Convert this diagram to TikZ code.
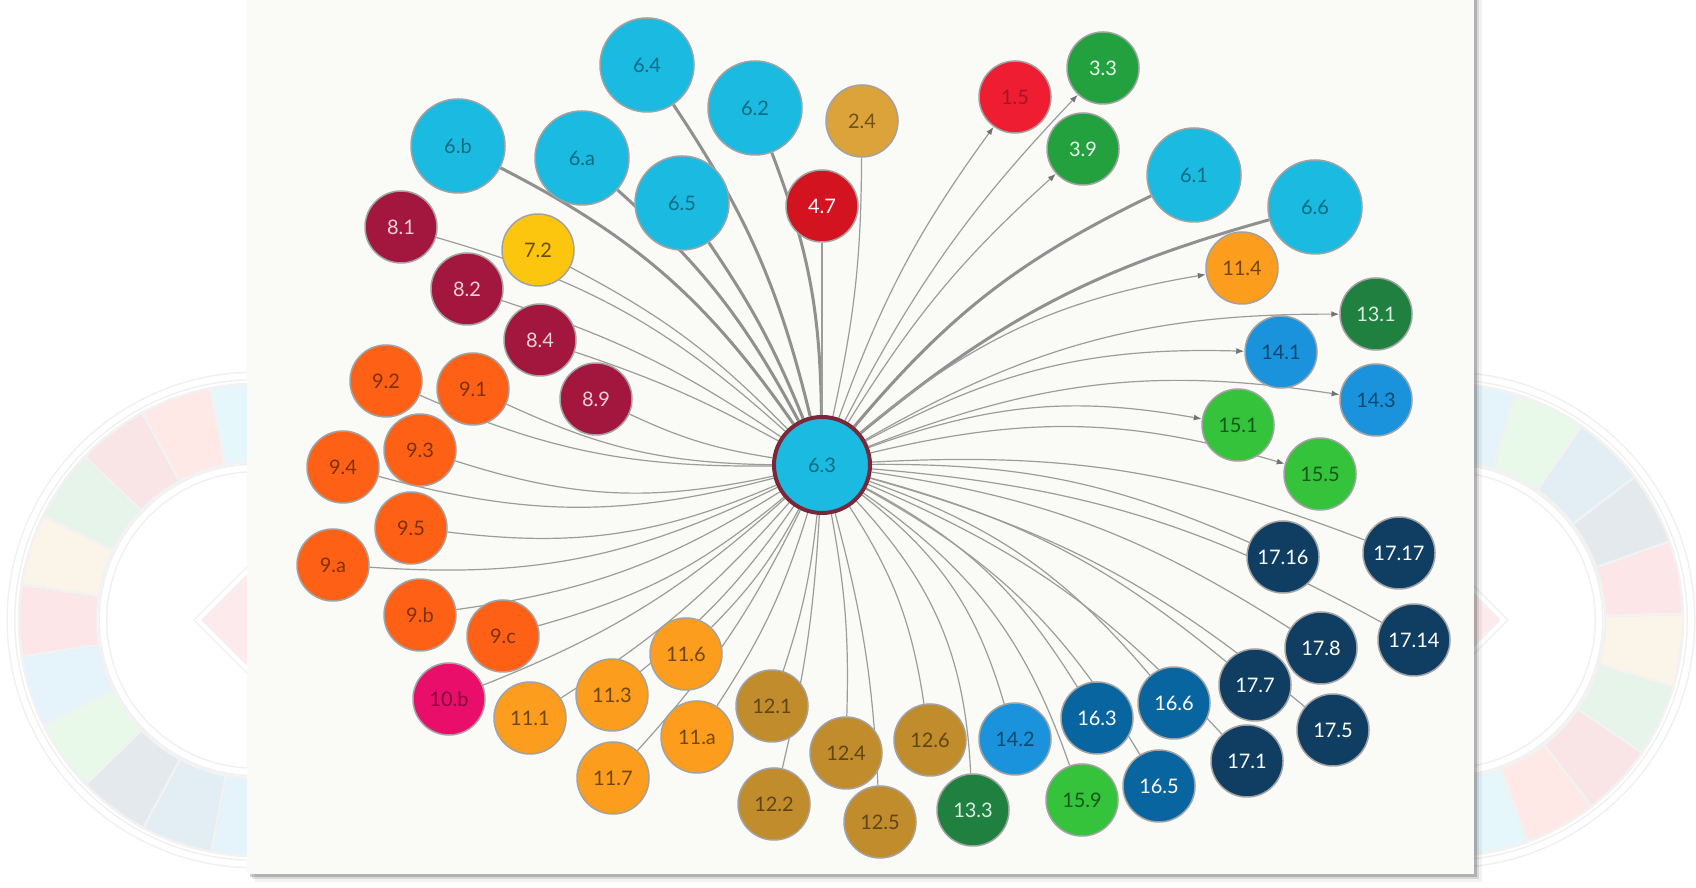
\documentclass[tikz,border=0pt]{standalone}
\usepackage{fontspec}
\setsansfont{Lato}
\usetikzlibrary{backgrounds,arrows.meta}

\definecolor{sdg1}{HTML}{EE1D31}
\definecolor{sdg2}{HTML}{DCA33A}
\definecolor{sdg3}{HTML}{23A13F}
\definecolor{sdg4}{HTML}{D3131F}
\definecolor{sdg5}{HTML}{FF3A21}
\definecolor{sdg6}{HTML}{1BBAE1}
\definecolor{sdg7}{HTML}{FDC60E}
\definecolor{sdg8}{HTML}{A3173F}
\definecolor{sdg9}{HTML}{FE6116}
\definecolor{sdg10}{HTML}{EA0E6B}
\definecolor{sdg11}{HTML}{FC9D1E}
\definecolor{sdg12}{HTML}{C18C2C}
\definecolor{sdg13}{HTML}{1F8040}
\definecolor{sdg14}{HTML}{1B93DC}
\definecolor{sdg15}{HTML}{34C33B}
\definecolor{sdg16}{HTML}{09659F}
\definecolor{sdg17}{HTML}{0F3E62}
\definecolor{rim}{HTML}{A2A2A2}
\definecolor{wire}{HTML}{9C9C9C}
\definecolor{hub}{HTML}{7A2837}
\definecolor{paper}{HTML}{FAFAF7}

\tikzset{
  target/.style={circle, draw=rim, line width=1.5pt, inner sep=0pt, minimum size=72pt,
    font=\sffamily\fontsize{20}{24}\selectfont},
  g1/.style={target, fill=sdg1, text=sdg1!70!black},
  g2/.style={target, fill=sdg2, text=sdg2!50!black},
  g3/.style={target, fill=sdg3, text=white!90!sdg3},
  g4/.style={target, fill=sdg4, text=white},
  g6/.style={target, fill=sdg6, text=sdg6!58!black},
  g6b/.style={g6, minimum size=94pt},
  g7/.style={target, fill=sdg7, text=sdg7!40!black},
  g8/.style={target, fill=sdg8, text=white!80!sdg8},
  g9/.style={target, fill=sdg9, text=sdg9!50!black},
  g10/.style={target, fill=sdg10, text=sdg10!55!black},
  g11/.style={target, fill=sdg11, text=sdg11!45!black},
  g12/.style={target, fill=sdg12, text=sdg12!50!black},
  g13/.style={target, fill=sdg13, text=white!85!sdg13},
  g14/.style={target, fill=sdg14, text=sdg14!50!black},
  g15/.style={target, fill=sdg15, text=sdg15!45!black},
  g16/.style={target, fill=sdg16, text=white},
  g17/.style={target, fill=sdg17, text=white},
  plainlink/.style={draw=wire, line width=1.2pt},
  heavylink/.style={draw=wire!92!black, line width=3pt},
  arrowlink/.style={plainlink, -{Latex[length=8pt,width=6pt,color=black!55]}},
}

\begin{document}
\begin{tikzpicture}[x=1pt,y=1pt]
\useasboundingbox (0,0) rectangle (1696,888);

\node[g6, minimum size=96pt, draw=hub, line width=4pt] (t63) at (822,423) {6.3};
\foreach \n/\x/\y/\t/\s in {
  t64/647/823/6.4/g6b, t62/755/780/6.2/g6b, t24/862/767/2.4/g2, t15/1015/791/1.5/g1,
  t33/1103/820/3.3/g3, t39/1083/739/3.9/g3, t6b/458/742/6.b/g6b, t6a/582/730/6.a/g6b,
  t65/682/685/6.5/g6b, t47/822/682/4.7/g4, t61/1194/713/6.1/g6b, t66/1315/681/6.6/g6b,
  t81/401/661/8.1/g8, t72/538/638/7.2/g7, t82/467/599/8.2/g8, t84/540/548/8.4/g8,
  t89/596/489/8.9/g8, t92/386/507/9.2/g9, t91/473/499/9.1/g9, t93/420/438/9.3/g9,
  t94/343/421/9.4/g9, t95/411/360/9.5/g9, t9a/333/323/9.a/g9, t9b/420/273/9.b/g9,
  t9c/503/252/9.c/g9, t10b/449/189/10.b/g10, t111/530/170/11.1/g11, t113/612/193/11.3/g11,
  t116/686/234/11.6/g11, t11a/697/151/11.a/g11, t117/613/110/11.7/g11, t121/772/182/12.1/g12,
  t122/774/84/12.2/g12, t124/846/135/12.4/g12, t125/880/66/12.5/g12, t126/930/148/12.6/g12,
  t133/973/78/13.3/g13, t142/1015/149/14.2/g14, t159/1082/88/15.9/g15, t163/1097/170/16.3/g16,
  t165/1159/102/16.5/g16, t166/1174/185/16.6/g16, t171/1247/127/17.1/g17, t177/1255/203/17.7/g17,
  t175/1333/158/17.5/g17, t178/1321/240/17.8/g17, t1714/1414/248/17.14/g17, t1716/1283/331/17.16/g17,
  t1717/1399/335/17.17/g17, t155/1320/414/15.5/g15, t151/1238/463/15.1/g15, t143/1376/488/14.3/g14,
  t141/1281/536/14.1/g14, t131/1376/574/13.1/g13, t114/1242/620/11.4/g11}
  \node[\s] (\n) at (\x,\y) {\t};

\begin{pgfonlayer}{background}
  \fill[white] (0,0) rectangle (1696,888);
  % faded goal wheels left and right
  \foreach \cx/\a/\d/\cols in {
      255/83.4/17.6/{sdg6,sdg5,sdg4,sdg3,sdg2,sdg1,sdg14,sdg15,sdg17,sdg16,sdg14},
      1447/91/-17.9/{sdg14,sdg15,sdg16,sdg17,sdg1,sdg2,sdg3,sdg4,sdg5,sdg6}} {
    \foreach \c [count=\i from 0] in \cols {
      \pgfmathsetmacro\p{\a+\d*\i}
      \pgfmathsetmacro\q{\p+\d}
      \filldraw[shift={(\cx,268)}, fill=\c, fill opacity=.11, draw=black!5, line width=2.5pt]
        (\p:158) arc[start angle=\p, end angle=\q, radius=158]
        -- (\q:236) arc[start angle=\q, end angle=\p, radius=236] -- cycle;
    }
    \draw[black!6, line width=9pt] (\cx,268) circle[radius=244] (\cx,268) circle[radius=152];
    \draw[white, line width=6pt] (\cx,268) circle[radius=244] (\cx,268) circle[radius=152];
    \filldraw[fill=sdg1, fill opacity=.09, draw=black!6, line width=7pt]
      (\cx-57,268) -- (\cx,325) -- (\cx+57,268) -- (\cx,211) -- cycle;
    \draw[white, line width=4pt] (\cx-57,268) -- (\cx,325) -- (\cx+57,268) -- (\cx,211) -- cycle;
  }
  % panel with soft shadow
  \foreach \d/\o in {8/.05,5/.1,3/.18}
    \fill[black, opacity=\o] (247+\d,14-\d) rectangle (1474+\d,888);
  \fill[paper] (247,14) rectangle (1474,888);

  \foreach \n/\b/\s in {
    t64/-10/heavylink, t62/-10/heavylink, t24/-6/plainlink, t15/8/arrowlink, t33/8/arrowlink,
    t39/8/arrowlink, t6b/-14/heavylink, t6a/-10/heavylink, t65/-6/heavylink, t47/0/plainlink,
    t61/12/heavylink, t66/12/heavylink, t81/-13/plainlink, t72/-9/plainlink, t82/-8/plainlink,
    t84/-5/plainlink, t89/8/plainlink, t92/12/plainlink, t91/12/plainlink, t93/15/plainlink,
    t94/15/plainlink, t95/15/plainlink, t9a/15/plainlink, t9b/12/plainlink, t9c/12/plainlink,
    t10b/10/plainlink, t111/8/plainlink, t113/8/plainlink, t116/8/plainlink, t11a/8/plainlink,
    t117/8/plainlink, t121/6/plainlink, t122/5/plainlink, t124/6/plainlink, t125/6/plainlink,
    t126/12/plainlink, t133/20/plainlink, t142/18/plainlink, t159/18/plainlink, t163/15/plainlink,
    t165/15/plainlink, t166/15/plainlink, t171/12/plainlink, t177/12/plainlink, t175/12/plainlink,
    t178/12/plainlink, t1714/12/plainlink, t1716/12/plainlink, t1717/12/plainlink,
    t155/15/arrowlink, t151/15/arrowlink, t143/15/arrowlink, t141/15/arrowlink,
    t131/15/arrowlink, t114/15/arrowlink}
    \path (t63) edge[\s, bend left=\b] (\n);
\end{pgfonlayer}
\end{tikzpicture}
\end{document}
